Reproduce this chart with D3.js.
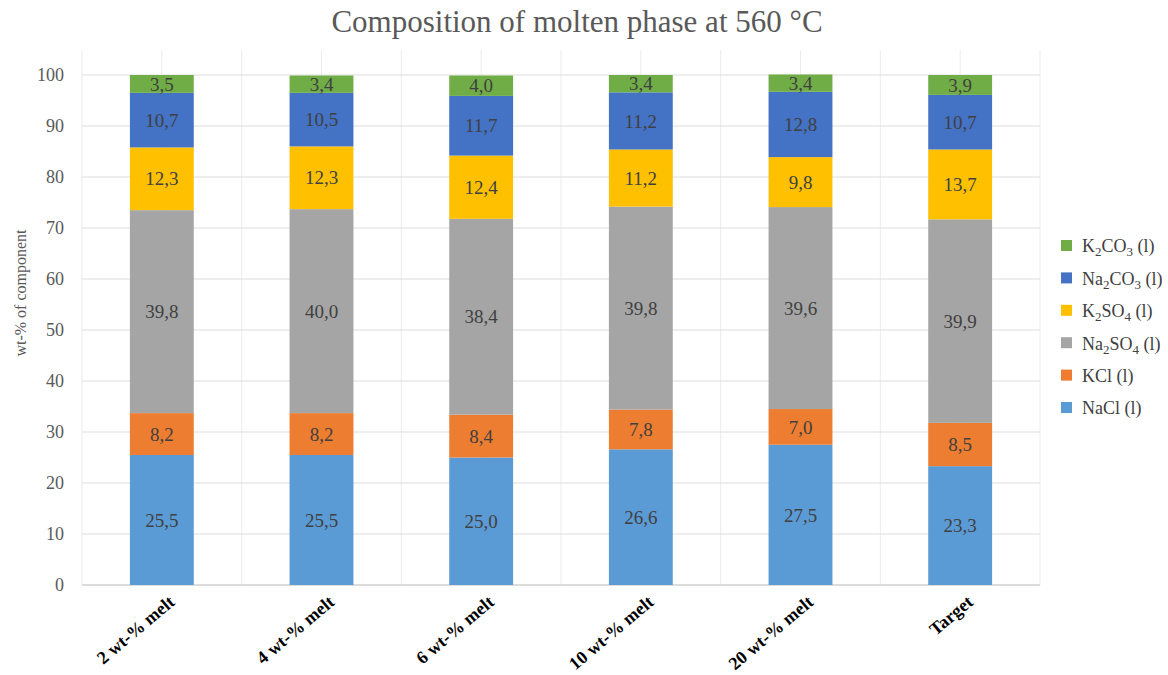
<!DOCTYPE html>
<html><head><meta charset="utf-8">
<script src="https://cdn.jsdelivr.net/npm/d3@7"></script>
<style>body{margin:0;background:#fff}svg{display:block}</style>
</head><body>
<div id="chart"></div>
<script>
const categories = ["2 wt-% melt","4 wt-% melt","6 wt-% melt","10 wt-% melt","20 wt-% melt","Target"];
const NaCl   = [25.5,25.5,25.0,26.6,27.5,23.3];
const KCl    = [8.2,8.2,8.4,7.8,7.0,8.5];
const Na2SO4 = [39.8,40.0,38.4,39.8,39.6,39.9];
const K2SO4  = [12.3,12.3,12.4,11.2,9.8,13.7];
const Na2CO3 = [10.7,10.5,11.7,11.2,12.8,10.7];
const K2CO3  = [3.5,3.4,4.0,3.4,3.4,3.9];
const yTicks = [0,10,20,30,40,50,60,70,80,90,100];
const seriesNames = [
  {key:"NaCl", parts:[["NaCl",0],[" (l)",0]]},
  {key:"KCl", parts:[["KCl",0],[" (l)",0]]},
  {key:"Na2SO4", parts:[["Na",0],["2",1],["SO",0],["4",1],[" (l)",0]]},
  {key:"K2SO4", parts:[["K",0],["2",1],["SO",0],["4",1],[" (l)",0]]},
  {key:"Na2CO3", parts:[["Na",0],["2",1],["CO",0],["3",1],[" (l)",0]]},
  {key:"K2CO3", parts:[["K",0],["2",1],["CO",0],["3",1],[" (l)",0]]}
];
const seriesValues = [NaCl,KCl,Na2SO4,K2SO4,Na2CO3,K2CO3];
const colors = ["#5B9BD5","#ED7D31","#A5A5A5","#FFC000","#4472C4","#70AD47"];

const W=1168,H=675;
const m={left:82,right:1040,top:75,bottom:585};
const FONT='"Liberation Serif", Tinos, "Times New Roman", Times, serif';
const svg=d3.select("#chart").append("svg").attr("width",W).attr("height",H);

const x=d3.scaleBand().domain(categories).range([m.left,m.right]).padding(0);
const y=d3.scaleLinear().domain([0,100]).range([m.bottom,m.top]);
const bw=x.bandwidth();
const barW=bw*0.4;

// vertical gridlines
const vx=[];
categories.forEach(c=>{vx.push(x(c));vx.push(x(c)+bw/2);});
vx.push(m.right);
svg.append("g").selectAll("line").data(vx).join("line")
  .attr("x1",d=>d).attr("x2",d=>d).attr("y1",50).attr("y2",m.bottom)
  .attr("stroke","#ECECEC").attr("stroke-width",1);
// horizontal gridlines
svg.append("g").selectAll("line").data(yTicks).join("line")
  .attr("x1",m.left).attr("x2",m.right).attr("y1",d=>y(d)).attr("y2",d=>y(d))
  .attr("stroke",d=>d===0?"#D0D0D0":"#DDDDDD").attr("stroke-width",d=>d===0?1.5:1);

// y tick labels
svg.append("g").selectAll("text").data(yTicks).join("text")
  .attr("x",64).attr("y",d=>y(d)).attr("dy","0.35em").attr("text-anchor","end")
  .style("font-family",FONT).style("font-size","18px").attr("fill","#595959").text(d=>d);

// stacked data
const rows=categories.map((c,i)=>{const o={cat:c};seriesNames.forEach((s,j)=>o[s.key]=seriesValues[j][i]);return o;});
const stack=d3.stack().keys(seriesNames.map(s=>s.key))(rows);
const fmt=v=>v.toFixed(1).replace(".",",");
stack.forEach((layer,j)=>{
  const g=svg.append("g");
  g.selectAll("rect").data(layer).join("rect")
    .attr("x",d=>x(d.data.cat)+(bw-barW)/2).attr("width",barW)
    .attr("y",d=>y(d[1])).attr("height",d=>y(d[0])-y(d[1]))
    .attr("fill",colors[j]);
  g.selectAll("text").data(layer).join("text")
    .attr("x",d=>x(d.data.cat)+bw/2).attr("y",d=>(y(d[0])+y(d[1]))/2)
    .attr("dy","0.35em").attr("text-anchor","middle")
    .style("font-family",FONT).style("font-size","19px").attr("fill","#404040")
    .text(d=>fmt(d.data[layer.key]));
});

// x labels
svg.append("g").selectAll("text").data(categories).join("text")
  .attr("transform",d=>`translate(${x(d)+bw/2+10},${m.bottom+14}) rotate(-40)`)
  .attr("text-anchor","end").attr("dy","0.35em")
  .style("font-family",FONT).style("font-weight","bold").style("font-size","18px").attr("fill","#000")
  .text(d=>d);

// title
svg.append("text").attr("x",577).attr("y",32).attr("text-anchor","middle")
  .style("font-family",FONT).style("font-size","31px").attr("fill","#595959")
  .text("Composition of molten phase at 560 °C");

// y axis title
svg.append("text").attr("transform","translate(26,293) rotate(-90)").attr("text-anchor","middle")
  .style("font-family",FONT).style("font-size","16px").attr("fill","#595959")
  .text("wt-% of component");

// legend
const legendOrder=seriesNames.map((s,j)=>({s,c:colors[j]})).reverse();
const lg=svg.append("g").selectAll("g").data(legendOrder).join("g")
  .attr("transform",(d,i)=>`translate(1061,${246+i*32.4})`);
lg.append("rect").attr("x",0).attr("y",-6).attr("width",11).attr("height",11).attr("fill",d=>d.c);
const lt=lg.append("text").attr("x",21).attr("y",0).attr("dy","0.35em")
  .style("font-family",FONT).style("font-size","18px").attr("fill","#404040");
lt.each(function(d){
  const t=d3.select(this);
  let prevSub=false;
  d.s.parts.forEach(([txt,sub])=>{
    const ts=t.append("tspan").text(txt);
    if(sub){ts.style("font-size","13px").attr("dy",4);}
    else if(prevSub){ts.attr("dy",-4);}
    prevSub=!!sub;
  });
});
</script>
</body></html>
